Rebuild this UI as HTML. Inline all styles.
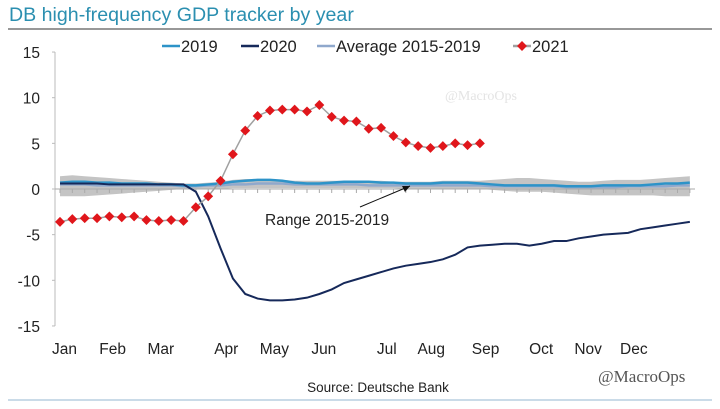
<!DOCTYPE html>
<html><head><meta charset="utf-8"><style>
body{margin:0;background:#fff;width:720px;height:404px;overflow:hidden;font-family:"Liberation Sans",Arial,sans-serif}
</style></head><body>
<svg id="c" width="720" height="404" xmlns="http://www.w3.org/2000/svg" font-family="Liberation Sans, Arial, sans-serif">
<text x="9" y="21" font-size="19.6" fill="#2b8fb0">DB high-frequency GDP tracker by year</text>
<line x1="8" y1="29" x2="712" y2="29" stroke="#777" stroke-width="1.5"/>
<line x1="8" y1="400" x2="712" y2="400" stroke="#b8cfe0" stroke-width="1.5"/>
<text x="445" y="100" font-size="14" fill="#e4e4e4" font-family="Liberation Serif, serif">@MacroOps</text>
<text x="598" y="382" font-size="17" fill="#555" font-family="Liberation Serif, serif">@MacroOps</text>
<text x="378" y="392" font-size="13.5" fill="#222" text-anchor="middle">Source: Deutsche Bank</text>
<g id="plot"></g>
</svg>
<script>
const yTicks=[15,10,5,0,-5,-10,-15];
const months=["Jan","Feb","Mar","Apr","May","Jun","Jul","Aug","Sep","Oct","Nov","Dec"];
const monthPos=[0.2,4.1,8.0,13.3,17.2,21.2,26.3,29.9,34.3,38.8,42.6,46.3];
const s2021=[-3.6,-3.3,-3.2,-3.2,-3.0,-3.1,-3.0,-3.4,-3.5,-3.4,-3.5,-2.0,-0.8,0.9,3.8,6.4,8.0,8.6,8.7,8.7,8.5,9.2,7.9,7.5,7.4,6.6,6.7,5.8,5.1,4.7,4.5,4.7,5.0,4.8,5.0];
const s2020=[0.6,0.6,0.6,0.6,0.5,0.5,0.5,0.5,0.5,0.5,0.5,-0.3,-3,-6.5,-9.8,-11.5,-12,-12.2,-12.2,-12.1,-11.9,-11.5,-11,-10.3,-9.9,-9.5,-9.1,-8.7,-8.4,-8.2,-8.0,-7.7,-7.2,-6.4,-6.2,-6.1,-6.0,-6.0,-6.2,-6.0,-5.7,-5.7,-5.4,-5.2,-5.0,-4.9,-4.8,-4.4,-4.2,-4.0,-3.8,-3.6];
const s2019=[0.7,0.8,0.8,0.7,0.7,0.6,0.6,0.6,0.5,0.5,0.4,0.4,0.5,0.6,0.8,0.9,1.0,1.0,0.9,0.7,0.6,0.6,0.7,0.8,0.8,0.8,0.7,0.7,0.6,0.6,0.6,0.7,0.7,0.7,0.6,0.5,0.4,0.4,0.4,0.4,0.4,0.3,0.3,0.3,0.4,0.4,0.4,0.4,0.5,0.6,0.6,0.7];
const sAvg=[0.5,0.5,0.5,0.4,0.4,0.4,0.4,0.4,0.4,0.4,0.3,0.3,0.4,0.4,0.5,0.5,0.6,0.6,0.6,0.5,0.5,0.5,0.5,0.5,0.5,0.4,0.4,0.4,0.4,0.4,0.4,0.4,0.4,0.4,0.4,0.3,0.3,0.3,0.3,0.3,0.3,0.2,0.2,0.2,0.2,0.2,0.3,0.3,0.3,0.3,0.4,0.4];
const rangeHi=[1.4,1.5,1.4,1.3,1.2,1.1,1.0,0.9,0.8,0.7,0.6,0.6,0.7,0.8,1.0,1.1,1.1,1.1,1.0,0.9,0.9,0.9,0.9,0.9,0.9,0.9,0.9,0.8,0.8,0.8,0.8,0.9,0.9,0.9,0.9,1.0,1.1,1.2,1.2,1.1,1.0,0.9,0.8,0.8,0.9,1.0,1.0,1.0,1.1,1.2,1.3,1.4];
const rangeLo=[-0.8,-0.8,-0.8,-0.7,-0.6,-0.5,-0.4,-0.3,-0.2,-0.1,0.0,0.0,0.0,0.0,0.1,0.1,0.1,0.1,0.1,0.1,0.1,0.1,0.1,0.1,0.1,0.1,0.1,0.1,0.0,0.0,0.0,0.0,0.0,0.0,0.0,-0.1,-0.2,-0.3,-0.3,-0.3,-0.4,-0.5,-0.6,-0.7,-0.7,-0.7,-0.7,-0.7,-0.7,-0.8,-0.8,-0.8];
const X=i=>60+i*12.35;
const Y=v=>189-v*9.13;
const NS="http://www.w3.org/2000/svg";
const g=document.getElementById('plot');
function mk(t,a){const e=document.createElementNS(NS,t);for(const k in a)e.setAttribute(k,a[k]);g.appendChild(e);return e;}
let ax=mk('line',{x1:55,y1:Y(15),x2:55,y2:Y(-15),stroke:'#bbb'});


yTicks.forEach(v=>{
 const t=mk('text',{x:40,y:Y(v)+6,'font-size':15.5,fill:'#222','text-anchor':'end'});t.textContent=v;
 
 
 mk('line',{x1:52,y1:Y(v),x2:55,y2:Y(v),stroke:'#bbb'});
});
months.forEach((m,i)=>{
 const t=mk('text',{x:X(monthPos[i])+2,y:354,'font-size':15.5,fill:'#222','text-anchor':'middle'});t.textContent=m;
 
 
});
let d='M'+rangeHi.map((v,i)=>X(i)+','+Y(v)).join(' L')+' L'+rangeLo.map((v,i)=>X(i)+','+Y(v)).reverse().join(' L')+'Z';
let band=mk('path',{d:d,fill:'#c4c4c4'});


let zx=mk('line',{x1:55,y1:Y(0),x2:695,y2:Y(0),stroke:'#aaa'});


for(let i=0;i<52;i++)mk('line',{x1:X(i),y1:Y(0),x2:X(i),y2:Y(0)+4,stroke:'#aaa'});
function line(arr,col,w,name){const p=mk('path',{d:'M'+arr.map((v,i)=>X(i)+','+Y(v)).join(' L'),fill:'none',stroke:col,'stroke-width':w});
 
 }
line(sAvg,'#8fa8cc',2.5,'line-average');
line(s2019,'#2d93c8',2.5,'line-2019');
line(s2020,'#16295a',2,'line-2020');
line(s2021,'#a0a0a0',1.5,'line-2021');
s2021.forEach((v,i)=>{const r=mk('rect',{x:X(i)-3.5,y:Y(v)-3.5,width:7,height:7,fill:'#e0161b',transform:`rotate(45 ${X(i)} ${Y(v)})`});
 
 });
let an=mk('line',{x1:360,y1:207,x2:410,y2:186,stroke:'#111','stroke-width':1});


mk('path',{d:'M410,186 L402,186 L405,192 Z',fill:'#111'});
let at=mk('text',{x:265,y:225,'font-size':15.5,fill:'#222'});at.textContent='Range 2015-2019';


const leg=[["2019","#2d93c8",162,false],["2020","#16295a",241,false],["Average 2015-2019","#8fa8cc",317,false],["2021","#a0a0a0",513,true]];
leg.forEach(([n,c,x,m])=>{
 mk('line',{x1:x,y1:46,x2:x+18,y2:46,stroke:c,'stroke-width':2.5});
 if(m)mk('rect',{x:x+5.5,y:42.5,width:7,height:7,fill:'#e0161b',transform:`rotate(45 ${x+9} 46)`});
 const t=mk('text',{x:x+19,y:52,'font-size':16.5,fill:'#222'});t.textContent=n;
 
 
});
</script>
</body></html>
